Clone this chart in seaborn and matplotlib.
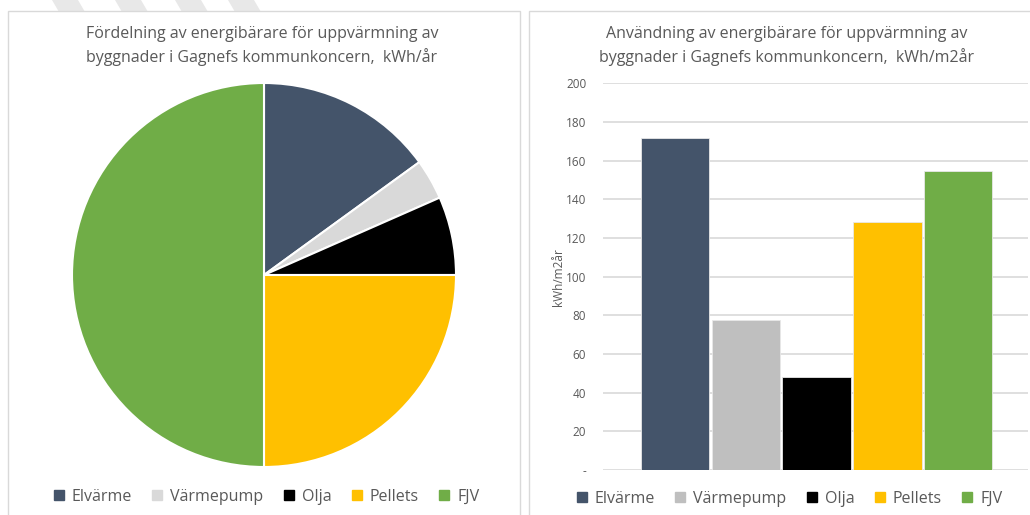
import matplotlib
matplotlib.use("Agg")
import matplotlib.pyplot as plt
import seaborn as sns
import pandas as pd
from matplotlib.patches import Rectangle, Polygon
from matplotlib.lines import Line2D

sns.set_theme(style="white")
plt.rcParams['font.family'] = ['Open Sans', 'DejaVu Sans']

# ---- data ----
categories = ["Elvärme", "Värmepump", "Olja", "Pellets", "FJV"]
pie_share = [15.0, 3.4, 6.6, 25.0, 50.0]          # andel av kWh/år (%)
bar_values = [171.6, 77.6, 48.3, 128.1, 154.8]     # kWh/m2år
pie_colors = ["#44546A", "#D9D9D9", "#000000", "#FFC000", "#70AD47"]
bar_colors = ["#44546A", "#BFBFBF", "#000000", "#FFC000", "#70AD47"]
yticks = [0, 20, 40, 60, 80, 100, 120, 140, 160, 180, 200]
ytick_labels = ["-", "20", "40", "60", "80", "100", "120", "140", "160", "180", "200"]
title_left = "Fördelning av energibärare för uppvärmning av\nbyggnader i Gagnefs kommunkoncern,  kWh/år"
title_right = "Användning av energibärare för uppvärmning av\nbyggnader i Gagnefs kommunkoncern,  kWh/m2år"
ylabel = "kWh/m2år"

W, H = 1030, 515
fig = plt.figure(figsize=(W / 100, H / 100), dpi=100)
fig.patch.set_facecolor("white")

def fx(px):
    return px / W

def fy(py):
    return 1 - py / H

text_col = "#595959"

# watermark stripes at the top
for x0 in [52, 115, 175, 228]:
    fig.patches.append(Polygon([[fx(x0), fy(0)], [fx(x0 + 26), fy(0)], [fx(x0 + 33), fy(12)], [fx(x0 + 7), fy(12)]],
                               closed=True, transform=fig.transFigure, facecolor="#E8E8E8",
                               edgecolor="none", zorder=-3))

# chart-area boxes
fig.patches.append(Rectangle((fx(8), fy(520)), fx(520) - fx(8), fy(11) - fy(520),
                             transform=fig.transFigure, facecolor="white", edgecolor="#D9D9D9",
                             linewidth=1, zorder=-2))
fig.patches.append(Rectangle((fx(529), fy(520)), fx(1040) - fx(529), fy(11) - fy(520),
                             transform=fig.transFigure, facecolor="white", edgecolor="#D9D9D9",
                             linewidth=1, zorder=-2))

# ---- pie ----
r = 192
cx, cy = 264, 275
ax1 = fig.add_axes([fx(cx - r), fy(cy + r), (2 * r) / W, (2 * r) / H])
ax1.pie(pie_share, colors=pie_colors, startangle=90, counterclock=False,
        wedgeprops=dict(edgecolor="white", linewidth=1.5), radius=1)
ax1.set_xlim(-1, 1)
ax1.set_ylim(-1, 1)
ax1.set_aspect("auto")
ax1.axis("off")
fig.text(fx(262), fy(46), title_left, ha="center", va="center", fontsize=11.5,
         color=text_col, linespacing=1.5, zorder=5)

# ---- bars ----
ax2 = fig.add_axes([fx(603), fy(470), (1028 - 603) / W, (470 - 83.3) / H])
df = pd.DataFrame({"kategori": categories, "värde": bar_values})
sns.barplot(data=df, x="kategori", y="värde", hue="kategori", palette=bar_colors,
            order=categories, hue_order=categories, legend=False, ax=ax2,
            width=0.97, edgecolor="#E8E8E8", linewidth=0.6, saturation=1)
ax2.set_xlim(-1.02, 4.99)
ax2.set_ylim(0, 200)
ax2.set_yticks(yticks)
ax2.set_yticklabels(ytick_labels)
ax2.tick_params(axis="y", length=0, pad=12, labelsize=8.5, labelcolor=text_col)
ax2.set_xticks([])
ax2.set_xlabel("")
ax2.set_ylabel(ylabel, fontsize=8.5, color=text_col, labelpad=1)
ax2.grid(axis="y", color="#D9D9D9", linewidth=1.2)
ax2.set_axisbelow(True)
for s in ax2.spines.values():
    s.set_visible(False)
ax2.set_facecolor("none")
fig.text(fx(787), fy(46), title_right, ha="center", va="center", fontsize=11.5,
         color=text_col, linespacing=1.5, zorder=5)

# ---- legends ----
def legend_handles(cols):
    return [Line2D([0], [0], marker="s", linestyle="none", markersize=7,
                   markerfacecolor=c, markeredgecolor=c) for c in cols]

fig.legend(legend_handles(pie_colors), categories, loc="center", bbox_to_anchor=(fx(265), fy(497)),
           ncol=5, frameon=False, fontsize=11.5, labelcolor=text_col, handletextpad=0.3,
           columnspacing=1.1, handlelength=1.0)
fig.legend(legend_handles(bar_colors), categories, loc="center", bbox_to_anchor=(fx(788), fy(499)),
           ncol=5, frameon=False, fontsize=11.5, labelcolor=text_col, handletextpad=0.3,
           columnspacing=1.1, handlelength=1.0)

fig.savefig("out.png", dpi=100, facecolor="white")
